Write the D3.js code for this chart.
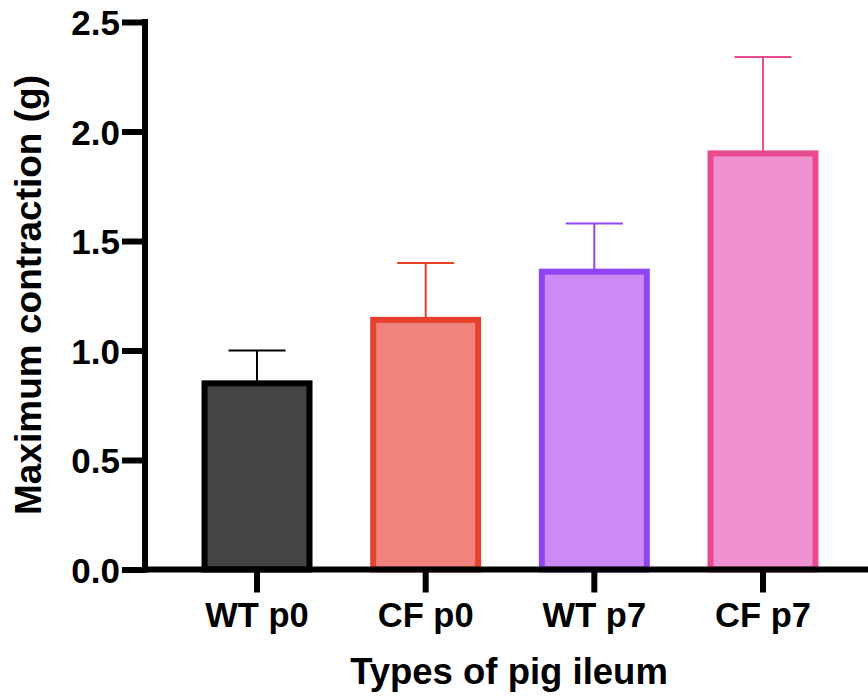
<!DOCTYPE html>
<html>
<head>
<meta charset="utf-8">
<script src="https://cdn.jsdelivr.net/npm/d3@7"></script>
<style>
  body { margin: 0; background: #fff; }
  svg { font-family: 'Liberation Sans', Arial, sans-serif; font-weight: bold; }
</style>
</head>
<body>
<svg width="868" height="696"></svg>
<script>
const categories = ['WT p0', 'CF p0', 'WT p7', 'CF p7'];
const means = [0.85, 1.14, 1.36, 1.90];
const errTops = [1.00, 1.40, 1.58, 2.34];
const fills = ['#444444', '#ee847b', '#cb8af5', '#f091d2'];
const strokes = ['#000000', '#e8402a', '#9045f5', '#ea4a90'];
const yTicks = [0, 0.5, 1.0, 1.5, 2.0, 2.5];

const data = categories.map((c, i) => ({
  cat: c, mean: means[i], top: errTops[i], fill: fills[i], stroke: strokes[i]
}));

const svg = d3.select('svg');
const axisX = 145;
const baseY = 569.5;

const xScale = d3.scaleBand()
    .domain(categories)
    .range([172.7, 847.3])
    .paddingInner(0.342)
    .paddingOuter(0.171);
const yScale = d3.scaleLinear()
    .domain([0, 2.5])
    .range([baseY, 22]);

const bars = svg.selectAll('g.bar')
    .data(data)
    .enter()
    .append('g')
    .attr('class', 'bar');

// error bars (upper only)
bars.append('line')
    .attr('x1', d => xScale(d.cat) + xScale.bandwidth() / 2)
    .attr('x2', d => xScale(d.cat) + xScale.bandwidth() / 2)
    .attr('y1', d => yScale(d.mean))
    .attr('y2', d => yScale(d.top))
    .style('stroke', d => d.stroke)
    .style('stroke-width', '2px');
bars.append('line')
    .attr('x1', d => xScale(d.cat) + xScale.bandwidth() / 2 - 28.5)
    .attr('x2', d => xScale(d.cat) + xScale.bandwidth() / 2 + 28.5)
    .attr('y1', d => yScale(d.top))
    .attr('y2', d => yScale(d.top))
    .style('stroke', d => d.stroke)
    .style('stroke-width', '2px');

bars.append('rect')
    .attr('x', d => xScale(d.cat) + 3)
    .attr('y', d => yScale(d.mean))
    .attr('width', xScale.bandwidth() - 6)
    .attr('height', d => yScale(0) - yScale(d.mean))
    .style('fill', d => d.fill)
    .style('stroke', d => d.stroke)
    .style('stroke-width', '6px');

// y axis
const yAxis = d3.axisLeft(yScale)
    .tickValues(yTicks)
    .tickFormat(d3.format('.1f'))
    .tickSize(23)
    .tickSizeOuter(0)
    .tickPadding(2);
const yG = svg.append('g')
    .attr('transform', `translate(${axisX}, 0)`)
    .call(yAxis);
yG.select('.domain').remove();
yG.selectAll('.tick line').style('stroke', '#000').style('stroke-width', '6px');
yG.selectAll('.tick text')
    .style('font-size', '35px')
    .style('font-weight', 'bold')
    .style('font-family', "'Liberation Sans', Arial, sans-serif")
    .attr('dy', '0.36em')
    .style('fill', '#000');
svg.append('line')
    .attr('x1', axisX).attr('x2', axisX)
    .attr('y1', yScale(2.5) - 3).attr('y2', baseY + 3)
    .style('stroke', '#000')
    .style('stroke-width', '6px');

// x axis
const xAxis = d3.axisBottom(xScale)
    .tickSize(23)
    .tickSizeOuter(0)
    .tickPadding(10);
const xG = svg.append('g')
    .attr('transform', `translate(0, ${baseY})`)
    .call(xAxis);
xG.select('.domain').remove();
xG.selectAll('.tick line').style('stroke', '#000').style('stroke-width', '6px');
xG.selectAll('.tick text')
    .style('font-size', '34.5px')
    .style('font-weight', 'bold')
    .style('font-family', "'Liberation Sans', Arial, sans-serif")
    .style('fill', '#000');
svg.append('line')
    .attr('x1', axisX - 3).attr('x2', 868)
    .attr('y1', baseY).attr('y2', baseY)
    .style('stroke', '#000')
    .style('stroke-width', '6px');

// axis titles
svg.append('text')
    .attr('x', 509)
    .attr('y', 684)
    .attr('text-anchor', 'middle')
    .style('font-size', '36.5px')
    .text('Types of pig ileum');
svg.append('text')
    .attr('transform', 'translate(41, 295) rotate(-90)')
    .attr('text-anchor', 'middle')
    .style('font-size', '37px')
    .text('Maximum contraction (g)');
</script>
</body>
</html>
